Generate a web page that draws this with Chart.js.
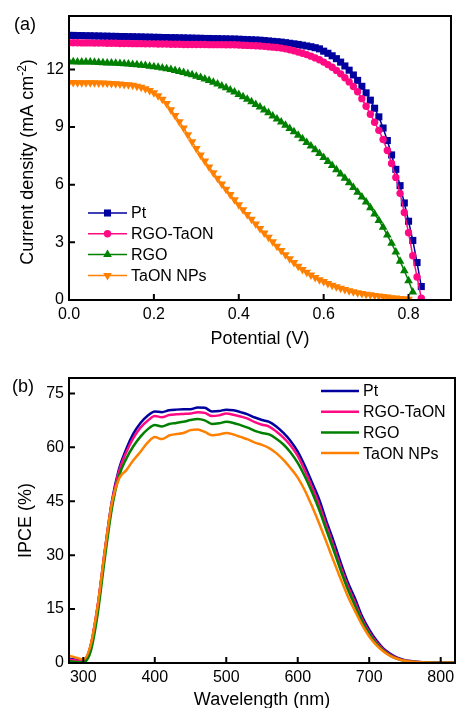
<!DOCTYPE html>
<html><head><meta charset="utf-8">
<script src="https://cdn.jsdelivr.net/npm/chart.js@4"></script>
<style>
html,body{margin:0;padding:0;background:#fff;}
#wrap{position:relative;width:456px;height:708px;overflow:hidden;}
.c{position:absolute;left:0;}
</style></head><body>
<div id="wrap">
<canvas id="jv" class="c" style="top:0" width="456" height="350"></canvas>
<canvas id="ipce" class="c" style="top:350px" width="456" height="358"></canvas>
</div>
<script>
// ---------- Data: (a) J-V curves ----------
const seriesNames = ['Pt', 'RGO-TaON', 'RGO', 'TaON NPs'];
const potential = [0.00,0.01,0.02,0.03,0.04,0.05,0.06,0.07,0.08,0.09,
 0.10,0.11,0.12,0.13,0.14,0.15,0.16,0.17,0.18,0.19,
 0.20,0.21,0.22,0.23,0.24,0.25,0.26,0.27,0.28,0.29,
 0.30,0.31,0.32,0.33,0.34,0.35,0.36,0.37,0.38,0.39,
 0.40,0.41,0.42,0.43,0.44,0.45,0.46,0.47,0.48,0.49,
 0.50,0.51,0.52,0.53,0.54,0.55,0.56,0.57,0.58,0.59,
 0.60,0.61,0.62,0.63,0.64,0.65,0.66,0.67,0.68,0.69,
 0.70,0.71,0.72,0.73,0.74,0.75,0.76,0.77,0.78,0.79,
 0.80,0.81,0.82,0.83];
const jPt = [13.77,13.77,13.76,13.76,13.75,13.75,13.74,13.74,13.73,13.73,
 13.72,13.72,13.71,13.71,13.70,13.70,13.69,13.69,13.68,13.68,
 13.67,13.67,13.66,13.66,13.65,13.65,13.64,13.64,13.63,13.63,
 13.62,13.62,13.61,13.61,13.60,13.60,13.59,13.59,13.58,13.58,
 13.57,13.56,13.55,13.54,13.53,13.52,13.50,13.48,13.46,13.44,
 13.42,13.39,13.36,13.33,13.30,13.26,13.22,13.18,13.13,13.07,
 12.95,12.84,12.71,12.56,12.38,12.18,11.96,11.71,11.43,11.12,
 10.78,10.40,9.98,9.53,8.95,8.30,7.55,6.80,5.95,5.05,
 4.10,3.10,1.95,0.70];
const jRgoTaon = [13.39,13.39,13.39,13.38,13.38,13.38,13.37,13.37,13.37,13.36,
 13.36,13.36,13.35,13.35,13.35,13.34,13.34,13.34,13.33,13.33,
 13.33,13.32,13.32,13.32,13.31,13.31,13.31,13.30,13.30,13.30,
 13.30,13.30,13.30,13.29,13.29,13.29,13.29,13.28,13.28,13.28,
 13.27,13.26,13.25,13.24,13.23,13.22,13.20,13.18,13.16,13.14,
 13.11,13.07,13.02,12.97,12.91,12.84,12.77,12.69,12.60,12.50,
 12.38,12.25,12.11,11.95,11.77,11.57,11.35,11.11,10.84,10.48,
 10.08,9.67,9.25,8.83,8.35,7.78,7.10,6.38,5.55,4.55,
 3.50,2.30,1.20,0.10];
const jRgo = [12.40,12.40,12.39,12.39,12.38,12.38,12.37,12.36,12.35,12.34,
 12.33,12.32,12.31,12.30,12.28,12.26,12.24,12.22,12.20,12.17,
 12.14,12.11,12.07,12.03,11.99,11.94,11.89,11.84,11.78,11.72,
 11.65,11.58,11.50,11.42,11.33,11.24,11.14,11.04,10.93,10.82,
 10.70,10.58,10.45,10.32,10.18,10.04,9.89,9.74,9.58,9.42,
 9.26,9.09,8.92,8.75,8.57,8.39,8.20,8.01,7.82,7.62,
 7.42,7.21,7.00,6.78,6.56,6.33,6.10,5.86,5.61,5.36,
 5.10,4.80,4.48,4.14,3.78,3.38,2.95,2.50,2.02,1.52,
 1.00,0.42];
const jTaon = [11.32,11.32,11.31,11.31,11.31,11.30,11.30,11.29,11.29,11.28,
 11.27,11.26,11.24,11.22,11.20,11.17,11.13,11.07,11.00,10.90,
 10.78,10.63,10.45,10.22,9.90,9.60,9.28,8.95,8.60,8.24,
 7.88,7.55,7.23,6.92,6.62,6.33,6.04,5.76,5.49,5.22,
 4.96,4.70,4.45,4.20,3.96,3.72,3.49,3.26,3.03,2.80,
 2.58,2.36,2.15,1.95,1.76,1.59,1.44,1.30,1.17,1.06,
 0.96,0.86,0.77,0.69,0.61,0.54,0.48,0.43,0.38,0.34,
 0.30,0.27,0.24,0.21,0.18,0.15,0.12,0.10,0.08,0.06,
 0.04];

// ---------- Data: (b) IPCE spectra ----------
const wavelength = [280,290,300,310,320,330,340,350,360,370,380,390,400,410,420,430,440,450,460,470,
 480,490,500,510,520,530,540,550,560,570,580,590,600,610,620,630,640,650,660,670,
 680,690,700,710,720,730,740,750,760,770,780,790,800,810,820];
const ipcePt = [1.2,0.9,0.7,4.5,15.5,31.0,45.0,54.0,59.5,63.8,66.8,68.8,70.0,69.8,70.3,70.5,70.6,70.6,71.1,71.0,
 70.0,70.1,70.5,70.3,69.8,69.2,68.3,67.6,67.1,65.8,64.0,61.8,58.8,54.8,50.2,45.5,39.5,34.0,28.0,22.5,
 18.0,13.0,9.3,6.3,4.0,2.5,1.4,0.8,0.5,0.3,0.2,0.15,0.1,0.1,0.1];
const ipceRgoTaon = [0.9,0.7,0.6,4.6,15.8,31.0,44.5,53.4,58.6,62.6,65.5,67.4,68.7,68.4,69.0,69.2,69.3,69.4,69.8,69.6,
 68.7,68.9,69.4,69.1,68.6,68.0,67.0,66.3,65.8,64.4,62.7,60.5,57.6,53.5,48.9,44.0,38.2,32.6,26.8,21.4,
 16.9,12.2,8.6,5.8,3.7,2.2,1.3,0.7,0.4,0.25,0.15,0.1,0.1,0.1,0.1];
const ipceRgo = [0.5,0.3,0.2,3.0,13.5,29.0,43.0,52.0,56.8,60.3,63.0,65.0,66.2,65.8,66.5,66.8,67.1,67.6,67.9,67.5,
 66.5,66.7,67.1,66.8,66.2,65.5,64.6,64.0,63.6,62.4,60.8,58.6,55.7,51.9,47.5,42.6,37.0,31.5,25.8,20.5,
 16.0,11.6,8.1,5.4,3.4,2.0,1.1,0.6,0.35,0.2,0.15,0.1,0.1,0.1,0.1];
const ipceTaon = [2.0,1.5,1.0,4.8,15.8,31.0,44.5,51.3,53.6,56.4,58.8,61.3,62.9,62.3,63.3,63.7,64.0,64.8,65.0,64.3,
 63.4,63.6,64.0,63.6,62.9,62.2,61.3,60.7,59.8,58.4,56.5,54.2,51.6,48.0,43.6,38.8,33.7,28.5,23.4,18.6,
 14.5,10.6,7.4,5.0,3.2,1.9,1.1,0.6,0.35,0.2,0.15,0.1,0.1,0.1,0.1];

// ---------- Styling ----------
const FONT = 'Arial, "Liberation Sans", Helvetica, sans-serif';
const COLORS = ['#00009e', '#ff0a84', '#008000', '#ff8000'];
const MARKERS = [{style:'rect', r:5.0, rot:0}, {style:'circle', r:3.7, rot:0}, {style:'triangle', r:5.0, rot:0}, {style:'triangle', r:5.0, rot:180}];
Chart.defaults.color = '#000';
Chart.defaults.font.family = FONT;

function drawMarker(ctx, m, x, y, color) {
  ctx.save();
  ctx.fillStyle = color;
  ctx.beginPath();
  if (m.style === 'rect') {
    const s = m.r * Math.SQRT1_2;
    ctx.rect(x - s, y - s, 2 * s, 2 * s);
  } else if (m.style === 'circle') {
    ctx.arc(x, y, m.r, 0, Math.PI * 2);
  } else {
    let rad = m.rot * Math.PI / 180;
    for (let k = 0; k < 3; k++) {
      const px = x + Math.sin(rad) * m.r, py = y - Math.cos(rad) * m.r;
      if (k === 0) ctx.moveTo(px, py); else ctx.lineTo(px, py);
      rad += 2 * Math.PI / 3;
    }
    ctx.closePath();
  }
  ctx.fill();
  ctx.restore();
}

function decorPlugin(cfg) {
  return {
    id: 'decor',
    afterDraw(chart) {
      const {ctx, chartArea: a, scales: {x, y}} = chart;
      ctx.save();
      // frame
      ctx.strokeStyle = '#000';
      ctx.lineWidth = 2;
      ctx.strokeRect(a.left, a.top, a.right - a.left, a.bottom - a.top);
      // inward ticks
      ctx.beginPath();
      x.ticks.forEach(t => {
        const px = x.getPixelForValue(t.value);
        if (px > a.left + 2 && px < a.right - 2) { ctx.moveTo(px, a.bottom); ctx.lineTo(px, a.bottom - 6); }
      });
      y.ticks.forEach(t => {
        const py = y.getPixelForValue(t.value);
        if (py > a.top + 2 && py < a.bottom - 2) { ctx.moveTo(a.left, py); ctx.lineTo(a.left + 6, py); }
      });
      ctx.stroke();
      // panel label
      ctx.fillStyle = '#000';
      ctx.font = '18px ' + FONT;
      ctx.textBaseline = 'middle';
      ctx.textAlign = 'left';
      ctx.fillText(cfg.panel, cfg.panelX, cfg.panelY);
      // x title
      ctx.textBaseline = 'alphabetic';
      ctx.textAlign = 'center';
      ctx.fillText(cfg.xTitle, (a.left + a.right) / 2, cfg.xTitleY);
      // y title (rotated, optional superscript)
      ctx.save();
      ctx.translate(cfg.yTitleX, (a.top + a.bottom) / 2 + cfg.yTitleShift);
      ctx.rotate(-Math.PI / 2);
      ctx.textAlign = 'left';
      const parts = cfg.yTitle;
      let widths = parts.map(p => { ctx.font = (p.sup ? '12px ' : '18px ') + FONT; return ctx.measureText(p.t).width; });
      const total = widths.reduce((s, w) => s + w, 0);
      let cx = -total / 2;
      parts.forEach((p, i) => {
        ctx.font = (p.sup ? '12px ' : '18px ') + FONT;
        ctx.fillText(p.t, cx, p.sup ? -7 : 0);
        cx += widths[i];
      });
      ctx.restore();
      // legend
      ctx.font = '16px ' + FONT;
      ctx.textAlign = 'left';
      ctx.textBaseline = 'middle';
      seriesNames.forEach((name, i) => {
        const ly = cfg.legY + i * cfg.legDy;
        ctx.strokeStyle = COLORS[i];
        ctx.lineWidth = cfg.legLine;
        ctx.beginPath();
        ctx.moveTo(cfg.legX0, ly); ctx.lineTo(cfg.legX1, ly);
        ctx.stroke();
        if (cfg.markers) drawMarker(ctx, MARKERS[i], (cfg.legX0 + cfg.legX1) / 2, ly, COLORS[i]);
        ctx.fillStyle = '#000';
        ctx.fillText(name, cfg.legTextX, ly + 1);
      });
      ctx.restore();
    }
  };
}

function axisOpts(min, max, step, size, fmt, isX) {
  return {
    type: 'linear', min: min, max: max,
    grid: {display: false, drawTicks: false, tickLength: 0}, border: {display: false},
    afterFit(s) { if (isX) { s.height = size; s.paddingLeft = 0; s.paddingRight = 0; } else { s.width = size; s.paddingTop = 0; s.paddingBottom = 0; } },
    ticks: {stepSize: step, includeBounds: false, padding: 5, color: '#000', autoSkip: false, maxRotation: 0,
      font: {family: FONT, size: 16}, callback: fmt}
  };
}

// ---------- Chart (a) ----------
const jSeries = [jPt, jRgoTaon, jRgo, jTaon];
new Chart(document.getElementById('jv'), {
  type: 'line',
  data: {
    datasets: jSeries.map((arr, i) => ({
      label: seriesNames[i],
      data: arr.map((v, k) => ({x: potential[k], y: v})),
      borderColor: COLORS[i], backgroundColor: COLORS[i],
      borderWidth: 1.5, pointStyle: MARKERS[i].style, pointRadius: MARKERS[i].r,
      pointRotation: MARKERS[i].rot, pointBorderWidth: 0, tension: 0, fill: false
    })).reverse()
  },
  options: {
    responsive: false, animation: false, events: [],
    layout: {padding: {left: 0, right: 1, top: 16, bottom: 0}},
    plugins: {legend: {display: false}, tooltip: {enabled: false}},
    scales: {
      x: axisOpts(0, 0.9, 0.2, 50, v => v.toFixed(1), true),
      y: axisOpts(0, 14.78, 3, 69, v => String(v), false)
    }
  },
  plugins: [decorPlugin({
    panel: '(a)', panelX: 14, panelY: 25,
    xTitle: 'Potential (V)', xTitleY: 344,
    yTitle: [{t: 'Current density (mA cm'}, {t: '-2', sup: true}, {t: ')'}], yTitleX: 33, yTitleShift: 4,
    legX0: 88, legX1: 127, legTextX: 131, legY: 213, legDy: 20.8, legLine: 1.5, markers: true
  })]
});

// ---------- Chart (b) ----------
const ipceSeries = [ipcePt, ipceRgoTaon, ipceRgo, ipceTaon];
new Chart(document.getElementById('ipce'), {
  type: 'line',
  data: {
    datasets: ipceSeries.map((arr, i) => ({
      label: seriesNames[i],
      data: arr.map((v, k) => ({x: wavelength[k], y: v})),
      borderColor: COLORS[i], backgroundColor: COLORS[i],
      borderWidth: 2.5, pointRadius: 0, cubicInterpolationMode: 'monotone', fill: false
    })).reverse()
  },
  options: {
    responsive: false, animation: false, events: [],
    layout: {padding: {left: 0, right: 1, top: 28, bottom: 0}},
    plugins: {legend: {display: false}, tooltip: {enabled: false}},
    scales: {
      x: axisOpts(280, 820, 100, 45, v => String(v), true),
      y: axisOpts(0, 79.3, 15, 69, v => String(v), false)
    }
  },
  plugins: [decorPlugin({
    panel: '(b)', panelX: 12, panelY: 37,
    xTitle: 'Wavelength (nm)', xTitleY: 355,
    yTitle: [{t: 'IPCE (%)'}], yTitleX: 31, yTitleShift: 0,
    legX0: 321, legX1: 359, legTextX: 363, legY: 41, legDy: 20.7, legLine: 2.5, markers: false
  })]
});
</script>
</body></html>
